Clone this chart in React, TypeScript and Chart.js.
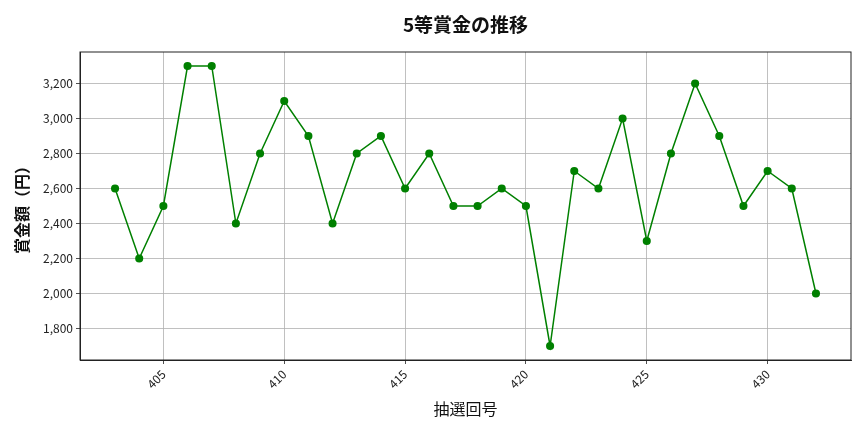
import React, { useEffect, useRef } from "react";
import { Chart, registerables } from "chart.js";

Chart.register(...registerables);

// 抽選回号と5等賞金（円）
const rounds = [
  403, 404, 405, 406, 407, 408, 409, 410, 411, 412, 413, 414, 415, 416, 417,
  418, 419, 420, 421, 422, 423, 424, 425, 426, 427, 428, 429, 430, 431, 432,
];
const prizes = [
  2600, 2200, 2500, 3300, 3300, 2400, 2800, 3100, 2900, 2400, 2800, 2900, 2600,
  2800, 2500, 2500, 2600, 2500, 1700, 2700, 2600, 3000, 2300, 2800, 3200, 2900,
  2500, 2700, 2600, 2000,
];
const xTicks = [405, 410, 415, 420, 425, 430];
const yTicks = [1800, 2000, 2200, 2400, 2600, 2800, 3000, 3200];
const titleText = "5等賞金の推移";

const FONT = "'Noto Sans CJK JP', 'Noto Sans', sans-serif";

const bgPlugin = {
  id: "bg",
  beforeDraw(chart: Chart) {
    const { ctx, width, height } = chart;
    ctx.save();
    ctx.fillStyle = "#ffffff";
    ctx.fillRect(0, 0, width, height);
    ctx.restore();
  },
};

// タイトルはプロット領域の中央に描く（matplotlib風）
const framePlugin = {
  id: "frame",
  afterDraw(c: Chart) {
    const { ctx: g, chartArea: a } = c;
    g.save();
    g.strokeStyle = "#222";
    g.lineWidth = 1;
    g.strokeRect(a.left, a.top, a.right - a.left, a.bottom - a.top);
    g.fillStyle = "#111";
    g.font = `bold 19px ${FONT}`;
    g.textAlign = "center";
    g.textBaseline = "middle";
    g.fillText(titleText, (a.left + a.right) / 2, 25);
    g.restore();
  },
};

const App: React.FC = () => {
  const canvasRef = useRef<HTMLCanvasElement>(null);

  useEffect(() => {
    if (!canvasRef.current) return;
    const ctx = canvasRef.current.getContext("2d")!;

    const xMin = rounds[0] - (rounds[rounds.length - 1] - rounds[0]) * 0.05;
    const xMax = rounds[rounds.length - 1] + (rounds[rounds.length - 1] - rounds[0]) * 0.05;
    const lo = Math.min(...prizes);
    const hi = Math.max(...prizes);
    const yMin = lo - (hi - lo) * 0.05;
    const yMax = hi + (hi - lo) * 0.05;

    const chart = new Chart(ctx, {
      type: "line",
      data: {
        datasets: [
          {
            label: "5等賞金",
            data: rounds.map((r, i) => ({ x: r, y: prizes[i] })),
            borderColor: "#008000",
            backgroundColor: "#008000",
            borderWidth: 1.5,
            pointRadius: 3.3,
            pointHoverRadius: 3.3,
            tension: 0,
          },
        ],
      },
      options: {
        animation: false,
        responsive: false,
        layout: { padding: { top: 52, right: 13, left: 0, bottom: 0 } },
        scales: {
          x: {
            type: "linear",
            min: xMin,
            max: xMax,
            afterBuildTicks: (s: any) => {
              s.ticks = xTicks.map((v) => ({ value: v }));
            },
            afterFit: (s: any) => {
              s.height = 72;
            },
            ticks: {
              minRotation: 45,
              maxRotation: 45,
              color: "#222",
              font: { family: FONT, size: 12 },
              callback: (v: any) => String(v),
            },
            grid: { color: "#b0b0b0", lineWidth: 0.8, tickColor: "#222", tickLength: 4 },
            border: { color: "#222", width: 1 },
            title: {
              display: true,
              text: "抽選回号",
              color: "#111",
              font: { family: FONT, size: 16 },
              padding: { top: 4, bottom: 13 },
            },
          },
          y: {
            type: "linear",
            min: yMin,
            max: yMax,
            afterBuildTicks: (s: any) => {
              s.ticks = yTicks.map((v) => ({ value: v }));
            },
            afterFit: (s: any) => {
              s.width = 80;
            },
            ticks: {
              color: "#222",
              font: { family: FONT, size: 12 },
              callback: (v: any) => Number(v).toLocaleString("en-US"),
            },
            grid: { color: "#b0b0b0", lineWidth: 0.8, tickColor: "#222", tickLength: 4 },
            border: { color: "#222", width: 1 },
            title: {
              display: true,
              text: "賞金額（円）",
              color: "#111",
              font: { family: FONT, size: 16, weight: "bold" },
              padding: { top: 12, bottom: 4 },
            },
          },
        },
        plugins: {
          legend: { display: false },
          tooltip: { enabled: false },
          title: { display: false },
        },
      },
      plugins: [bgPlugin, framePlugin],
    });

    return () => {
      chart.destroy();
    };
  }, []);

  return (
    <div style={{ position: "fixed", left: 0, top: 0, width: 864, height: 432 }}>
      <canvas ref={canvasRef} width={864} height={432} style={{ width: 864, height: 432 }} />
    </div>
  );
};

export default App;
